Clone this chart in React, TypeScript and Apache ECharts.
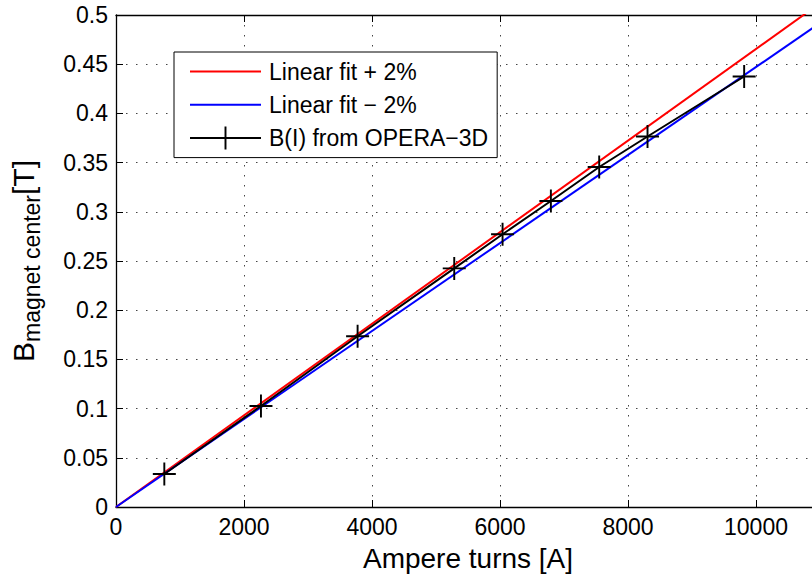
import React, { useEffect, useRef } from "react";
import * as echarts from "echarts";

// Data
const ampereTurns = [755, 2265, 3775, 5285, 6040, 6795, 7550, 8305, 9815];
const fieldOpera = [0.0335, 0.1027, 0.1735, 0.2425, 0.2772, 0.311, 0.3455, 0.3765, 0.4375];
const fitPlusX = [0, 11000];
const fitPlusY = [0, 0.512];
const fitMinusX = [0, 11000];
const fitMinusY = [0, 0.4918];
const seriesNames = ["Linear fit + 2%", "Linear fit \u2212 2%", "B(I) from OPERA\u22123D"];
const xTitle = "Ampere turns [A]";

const FONT = "'Liberation Sans', Arial, Helvetica, sans-serif";
const PLUS = "path://M-1,-12H1V-1H12V1H1V12H-1V1H-12V-1H-1Z";

export default function App() {
  const ref = useRef<HTMLDivElement>(null);
  useEffect(() => {
    if (!ref.current) return;
    const chart = echarts.init(ref.current, undefined, { renderer: "svg" });
    const zip = (xs: number[], ys: number[]) => xs.map((x, i) => [x, ys[i]]);
    const dotted = { color: "#444", width: 1, type: [1.5, 8.5] as number[] };
    chart.setOption({
      animation: false,
      backgroundColor: "#fff",
      textStyle: { fontFamily: FONT },
      grid: { left: 116, top: 15, right: 0, bottom: 72, containLabel: false },
      xAxis: [
        {
          type: "value",
          position: "bottom",
          min: 0,
          max: 11000,
          interval: 2000,
          axisLine: { show: true, onZero: false, lineStyle: { color: "#000", width: 1.3 } },
          axisTick: { show: true, inside: true, length: 7, lineStyle: { color: "#000", width: 1 } },
          axisLabel: {
            fontSize: 23,
            color: "#000",
            fontFamily: FONT,
            margin: 8,
            showMaxLabel: false,
            formatter: (v: number) => String(v),
          },
          splitLine: { show: true, lineStyle: dotted },
          name: xTitle,
          nameLocation: "middle",
          nameGap: 37,
          nameTextStyle: { fontSize: 28, color: "#000", fontFamily: FONT },
        },
        {
          type: "value",
          position: "top",
          min: 0,
          max: 11000,
          interval: 2000,
          axisLine: { show: true, onZero: false, lineStyle: { color: "#000", width: 1.3 } },
          axisTick: { show: true, inside: true, length: 7, lineStyle: { color: "#000", width: 1 } },
          axisLabel: { show: false },
          splitLine: { show: false },
        },
      ],
      yAxis: [
        {
          type: "value",
          min: 0,
          max: 0.5,
          interval: 0.05,
          axisLine: { show: true, onZero: false, lineStyle: { color: "#000", width: 1.3 } },
          axisTick: { show: true, inside: true, length: 7, lineStyle: { color: "#000", width: 1 } },
          axisLabel: { fontSize: 23, color: "#000", fontFamily: FONT, margin: 8 },
          splitLine: { show: true, lineStyle: dotted },
        },
      ],
      legend: {
        orient: "vertical",
        left: 174,
        top: 52,
        data: [
          { name: seriesNames[0], itemStyle: { opacity: 0 } },
          { name: seriesNames[1], itemStyle: { opacity: 0 } },
          { name: seriesNames[2] },
        ],
        itemWidth: 71,
        itemHeight: 29,
        itemGap: 10,
        padding: [8, 9, 8, 15],
        borderColor: "#000",
        borderWidth: 1,
        backgroundColor: "#fff",
        selectedMode: false,
        textStyle: { fontSize: 23, color: "#000", fontFamily: FONT, padding: [0, 0, 0, 3] },
      },
      graphic: [
        {
          type: "text",
          x: 23,
          y: 261,
          rotation: Math.PI / 2,
          style: {
            text: "{b|B}{s|magnet center}{b|[T]}",
            align: "center",
            verticalAlign: "middle",
            fill: "#000",
            rich: {
              b: { fontSize: 30, lineHeight: 30, fontFamily: FONT, fill: "#000" },
              s: { fontSize: 23, lineHeight: 23, padding: [18, 0, 0, 0], fontFamily: FONT, fill: "#000" },
            },
          },
        },
      ],
      series: [
        {
          name: seriesNames[0],
          type: "line",
          data: zip(fitPlusX, fitPlusY),
          symbol: "none",
          lineStyle: { color: "#ff0000", width: 2 },
          itemStyle: { color: "#ff0000" },
          clip: true,
        },
        {
          name: seriesNames[1],
          type: "line",
          data: zip(fitMinusX, fitMinusY),
          symbol: "none",
          lineStyle: { color: "#0000ff", width: 2 },
          itemStyle: { color: "#0000ff" },
          clip: true,
        },
        {
          name: seriesNames[2],
          type: "line",
          data: zip(ampereTurns, fieldOpera),
          symbol: PLUS,
          symbolSize: 23,
          showSymbol: true,
          lineStyle: { color: "#000", width: 2 },
          itemStyle: { color: "#000" },
          clip: true,
        },
      ],
    });
    return () => chart.dispose();
  }, []);
  return (
    <div
      style={{
        position: "absolute",
        left: 0,
        top: 0,
        width: 812,
        height: 579,
        overflow: "hidden",
        background: "#fff",
      }}
    >
      <div ref={ref} style={{ width: 820, height: 579 }} />
    </div>
  );
}
